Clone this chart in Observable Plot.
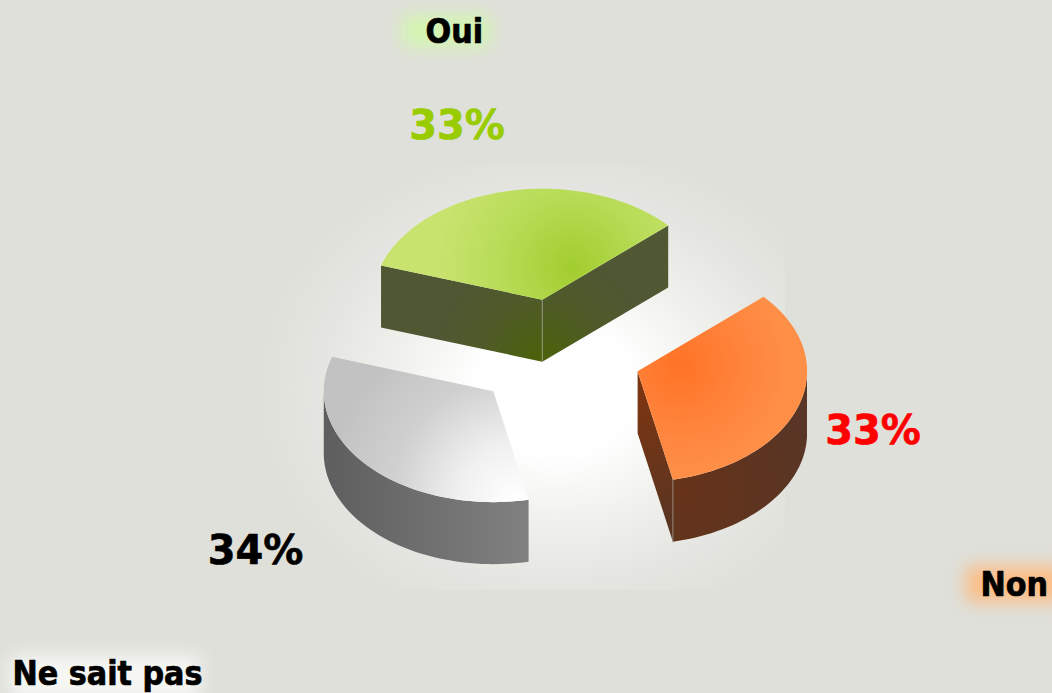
<!DOCTYPE html>
<html><head><meta charset="utf-8">
<style>html,body{margin:0;padding:0;background:#dfe0da;overflow:hidden}svg{display:block}</style>
<script src="https://cdn.jsdelivr.net/npm/d3@7"></script>
<script src="https://cdn.jsdelivr.net/npm/@observablehq/plot@0.6"></script>
</head><body><script>
const categories = ["Oui", "Non", "Ne sait pas"];
const shares = [33.33, 33.33, 33.34];
const shownPercent = [33, 33, 34];
const percentColors = ["#99cc00", "#ff0000", "#000000"];

// pie projection (layout, not data)
const W = 1052, H = 693;
const C = {x: 557.2, y: 353.5}, A = 169.5, B = 111, DEPTH = 62, EXPLODE = 0.5, START = -72;
const rad = d => d * Math.PI / 180;
const proj = (t, r = 1) => ({x: A * r * Math.sin(rad(t)), y: -B * r * Math.cos(rad(t))});

const slicePaint = [
  {top: "gTop", radial: "gSide", arc: "gSide", edge: "apex"},
  {top: "oTop", radial: "oInner", arc: "oArc", edge: "end"},
  {top: "wTop", radial: "wSide", arc: "wSide", edge: null}
];

const gradients = `
<radialGradient id="bgGlow" cx="0.56" cy="0.53" r="0.58">
 <stop offset="0" stop-color="#fff"/><stop offset="0.26" stop-color="#fff"/><stop offset="0.52" stop-color="#f1f1ee"/><stop offset="0.78" stop-color="#e5e6e1"/><stop offset="1" stop-color="#dfe0da"/></radialGradient>
<radialGradient id="gTop" gradientUnits="userSpaceOnUse" cx="572" cy="266" r="135">
 <stop offset="0" stop-color="#a2cd2e"/><stop offset="0.55" stop-color="#b8dc58"/><stop offset="1" stop-color="#c8e36e"/></radialGradient>
<radialGradient id="gSide" gradientUnits="userSpaceOnUse" cx="542" cy="361" r="110">
 <stop offset="0" stop-color="#4b6208"/><stop offset="0.6" stop-color="#4f5a2a"/><stop offset="1" stop-color="#4f5733"/></radialGradient>
<radialGradient id="oTop" gradientUnits="userSpaceOnUse" cx="680" cy="365" r="110">
 <stop offset="0" stop-color="#ff7325"/><stop offset="0.5" stop-color="#ff823a"/><stop offset="1" stop-color="#ff8f47"/></radialGradient>
<linearGradient id="oInner" gradientUnits="userSpaceOnUse" x1="637" y1="400" x2="672" y2="520">
 <stop offset="0" stop-color="#7a3512"/><stop offset="1" stop-color="#5a3522"/></linearGradient>
<radialGradient id="oArc" gradientUnits="userSpaceOnUse" cx="680" cy="490" r="130">
 <stop offset="0" stop-color="#67331a"/><stop offset="1" stop-color="#583524"/></radialGradient>
<radialGradient id="wTop" gradientUnits="userSpaceOnUse" cx="515" cy="500" r="190">
 <stop offset="0" stop-color="#ffffff"/><stop offset="0.3" stop-color="#f0f0f0"/><stop offset="0.65" stop-color="#d0d0d0"/><stop offset="1" stop-color="#c2c2c2"/></radialGradient>
<linearGradient id="wSide" gradientUnits="userSpaceOnUse" x1="323" y1="0" x2="527" y2="0">
 <stop offset="0" stop-color="#5e5e5e"/><stop offset="1" stop-color="#808080"/></linearGradient>`;

const labelLayout = [
  {x: 425, y: 42, glow: [402, 490, 15, 47], glowColor: "#d4f5b0"},
  {x: 980, y: 595, glow: [966, 1065, 566, 602], glowColor: "#fdbd85"},
  {x: 12, y: 684, glow: [10, 200, 655, 700], glowColor: "#f6f6f3"}
];
const percentLayout = [{x: 456.5, y: 138}, {x: 872.5, y: 443}, {x: 255, y: 563}];

const faceMarks = [], topMarks = [], edgeMarks = [];
let cum = START;
shares.forEach((s, i) => {
  const t0 = cum, t1 = cum + s * 3.6, mid = (t0 + t1) / 2;
  cum = t1;
  const off = {x: proj(mid + 1.5, EXPLODE).x, y: proj(mid, EXPLODE).y};
  const apex = {x: C.x + off.x, y: C.y + off.y};
  const n = 60, ts = d3.range(n + 1).map(k => t0 + (t1 - t0) * k / n);
  const at = t => { const p = proj(t); return {x: apex.x + p.x, y: apex.y + p.y}; };
  const arc = ts.map(at);
  const paint = slicePaint[i];
  const extrude = (pts, fill) => {
    const poly = [...pts, ...pts.slice().reverse().map(p => ({x: p.x, y: p.y + DEPTH}))];
    faceMarks.push(Plot.line(poly, {x: "x", y: "y", fill: `url(#${fill})`, stroke: "none"}));
  };
  // walking clockwise on screen, an edge going leftwards faces the viewer
  const first = arc[0], last = arc[n];
  if (first.x < apex.x) extrude([apex, first], paint.radial);
  if (last.x > apex.x) extrude([last, apex], paint.radial);
  const front = ts.filter(t => { const m = ((t % 360) + 360) % 360; return m >= 90 && m <= 270; }).map(at);
  if (front.length > 1) extrude(front, paint.arc);
  topMarks.push(Plot.line([apex, ...arc], {x: "x", y: "y", fill: `url(#${paint.top})`, stroke: "none"}));
  const e = paint.edge === "apex" ? apex : paint.edge === "end" ? last : null;
  if (e) edgeMarks.push(Plot.line([e, {x: e.x, y: e.y + DEPTH}], {x: "x", y: "y", stroke: "#9a9a90", strokeWidth: 0.8}));
});

const condensed = (index, scales, values, dims, ctx, next) => {
  const g = next(index, scales, values, dims, ctx);
  g.querySelectorAll("text").forEach(t => { t.style.fontStretch = "condensed"; });
  return g;
};

const chart = Plot.plot({
  width: W, height: H,
  margin: 0,
  style: {background: "transparent"},
  x: {domain: [0, W], range: [0, W], axis: null},
  y: {domain: [0, H], range: [0, H], axis: null},
  marks: [
    () => {
      const d = document.createElementNS("http://www.w3.org/2000/svg", "defs");
      d.innerHTML = gradients;
      return d;
    },
    Plot.rect([0], {x1: () => 265, x2: () => 785, y1: () => 165, y2: () => 590, fill: "url(#bgGlow)"}),
    ...labelLayout.map(l => Plot.rect([l], {
      x1: d => d.glow[0], x2: d => d.glow[1], y1: d => d.glow[2], y2: d => d.glow[3],
      fill: l.glowColor, imageFilter: "blur(9px)"
    })),
    ...faceMarks, ...edgeMarks, ...topMarks,
    Plot.text(categories, {
      x: (d, i) => labelLayout[i].x, y: (d, i) => labelLayout[i].y, text: d => d,
      textAnchor: "start", lineAnchor: "bottom", fontSize: 33.6, fill: "#000", stroke: "#000", strokeWidth: 0.7,
      fontFamily: "'DejaVu Sans Condensed','DejaVu Sans',sans-serif", fontWeight: "bold", render: condensed
    }),
    Plot.text(shownPercent, {
      x: (d, i) => percentLayout[i].x, y: (d, i) => percentLayout[i].y, text: d => d + "%",
      textAnchor: "middle", lineAnchor: "bottom", fontSize: 40, fill: (d, i) => percentColors[i],
      stroke: (d, i) => percentColors[i], strokeWidth: 0.6,
      fontFamily: "'DejaVu Sans',sans-serif", fontWeight: "bold"
    })
  ]
});
document.body.appendChild(chart);
</script></body></html>
